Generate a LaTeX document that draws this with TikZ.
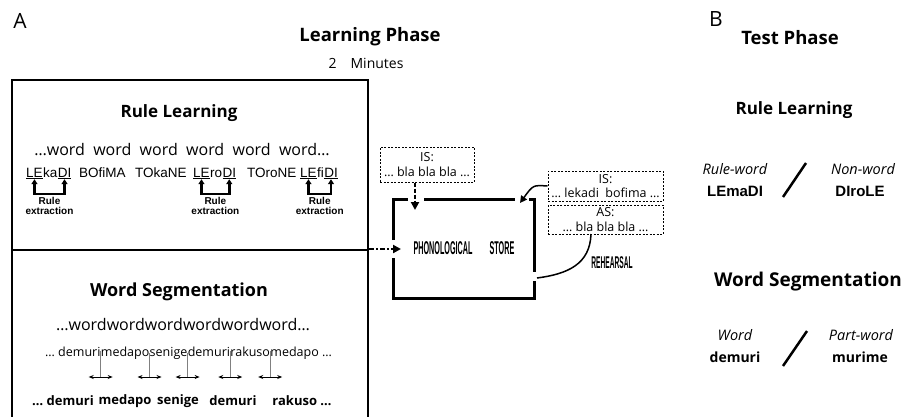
\documentclass[tikz,border=0pt]{standalone}
\usepackage{fontspec}
\setmainfont{Open Sans}
\newfontfamily\arialfont{Liberation Sans}
\usetikzlibrary{positioning,arrows.meta}
\newcommand\fsz[2]{\fontsize{#1pt}{#2pt}\selectfont}
\newcommand\narrow[1]{\scalebox{0.39}[1]{#1}}

\begin{document}
\begin{tikzpicture}[x=1pt,y=-1pt,
  phase/.style={font=\fsz{18.5}{20}\bfseries},
  sub/.style={font=\fsz{18}{20}\bfseries},
  wordline/.style={font=\fsz{16}{18}},
  syl/.style={font=\arialfont\fsz{13.5}{15},anchor=base west,inner sep=0pt},
  bracket/.style={line width=2.5pt,{Triangle[length=5pt,width=6pt]}-{Triangle[length=5pt,width=6pt]}},
  ruletxt/.style={font=\arialfont\bfseries\fsz{10}{10},align=center,inner sep=1.5pt},
  stream/.style={font=\fsz{12.5}{14},anchor=base west,inner sep=0pt},
  tick/.style={gray,line width=1pt},
  split/.style={line width=1pt,{Stealth[length=5pt,width=4pt]}-{Stealth[length=5pt,width=4pt]}},
  seg/.style={font=\fsz{13}{15}\bfseries},
  boxline/.style={line width=2.5pt},
  buffer/.style={draw,line width=1pt,dash pattern=on 2pt off 1.5pt,font=\fsz{12.5}{14.5},
    align=center,inner sep=0pt},
  store/.style={line width=3pt},
  storetxt/.style={font=\arialfont\bfseries\fsz{18.5}{18.5}},
  feed/.style={line width=2.5pt,dash pattern=on 4pt off 2pt,-{Triangle[length=8pt,width=8pt]}},
  kind/.style={font=\fsz{14.5}{16}\itshape},
  item/.style={font=\arialfont\bfseries\fsz{15}{17}},
  item2/.style={font=\fsz{14}{16}\bfseries},
  slash/.style={line width=2.5pt}]
\useasboundingbox (0,0) rectangle (907,416);

% panel A
\node[font=\fsz{21}{23}] (lblA) at (20,21) {A};
\node[phase] (learn) at (370,37) {Learning Phase};
\node[font=\fsz{14}{16}] (mins) at (366,63) {2\quad Minutes};
\draw[boxline] (12,80) rectangle (368,440);
\draw[boxline] (12,250) -- (368,250);

% rule learning
\node[sub,font=\fsz{17}{19}\bfseries] (rlTitle) at (179,113) {Rule Learning};
\node[wordline] (wl1) at (182,150) {\ldots word\ \ word\ \ word\ \ word\ \ word\ \ word\ldots};
\node[syl] (le1) at (26,177) {\underline{LE}};
\node[syl] (ka1) at (le1.base east) {ka};
\node[syl] (di1) at (ka1.base east) {\underline{DI}};
\node[syl] (bo) at (79,177) {BOfiMA};
\node[syl] (tk) at (135,177) {TOkaNE};
\node[syl] (le2) at (193,177) {\underline{LE}};
\node[syl] (ro2) at (le2.base east) {ro};
\node[syl] (di2) at (ro2.base east) {\underline{DI}};
\node[syl] (tr) at (247,177) {TOroNE};
\node[syl] (le3) at (300,177) {\underline{LE}};
\node[syl] (fi3) at (le3.base east) {fi};
\node[syl] (di3) at (fi3.base east) {\underline{DI}};
\foreach \a/\b in {le1/di1,le2/di2,le3/di3}
  \draw[bracket] (\a.south) -- ++(0,15) -| node[pos=0.25,below,ruletxt] {Rule\\extraction} (\b.south);

% word segmentation
\node[sub] (wsTitle) at (179,292) {Word Segmentation};
\node[wordline] (wl2) at (183,325) {\ldots wordwordwordwordwordword\ldots};
\node[stream] (w1) at (45,356) {\ldots{} demuri};
\node[stream] (w2) at (w1.base east) {medapo};
\node[stream] (w3) at (w2.base east) {senige};
\node[stream] (w4) at (w3.base east) {demuri};
\node[stream] (w5) at (w4.base east) {rakuso};
\node[stream] (w6) at (w5.base east) {medapo \ldots};
\foreach \w in {w1,w2,w3,w4,w5}{
  \coordinate (\w cut) at (\w.east |- 0,377);
  \draw[tick] (\w.east) -- (\w cut);
  \draw[split] ([xshift=-12pt]\w cut) -- ([xshift=12pt]\w cut);
}
\node[seg] (s1) at (63,401) {\ldots{} demuri};
\node[seg] (s2) at (125,401) {medapo};
\node[seg] (s3) at (178,401) {senige};
\node[seg] (s4) at (233,401) {demuri};
\node[seg] (s5) at (302,401) {rakuso \ldots};

% phonological store
\draw[store] (393,240) -- (393,199) -- (408,199);
\draw[store] (424,199) -- (515,199);
\draw[store] (529,199) -- (534,199) -- (534,272);
\draw[store] (534,281) -- (534,298) -- (393,298) -- (393,258);
\node[storetxt] (phon) at (443,248) {\narrow{PHONOLOGICAL}};
\node[storetxt] (st) at (502,248) {\narrow{STORE}};
\node[buffer,minimum width=94pt,minimum height=35pt] (is1) at (427,164.5) {IS:\\\ldots{} bla bla bla \ldots};
\node[buffer,minimum width=115pt,minimum height=30pt] (is2) at (605.5,186) {IS:\\\ldots{} lekadi\ \ bofima \ldots};
\node[buffer,minimum width=115pt,minimum height=29pt] (as) at (605.5,219.5) {AS:\\\ldots{} bla bla bla \ldots};
\coordinate (storeIn) at (415,210);
\coordinate (boxR) at (369,249);
\coordinate (storeL) at (401,249);
\coordinate (storeTR) at (520,203);
\coordinate (rehStart) at (591,234);
\coordinate (rehEnd) at (537,278);
\draw[feed] (is1.south -| storeIn) -- (storeIn);
\draw[feed,dash pattern=on 5pt off 2pt on 2pt off 2pt] (boxR) -- (storeL);
\draw[line width=1.5pt,-{Triangle[length=7pt,width=7pt]}] (is2.west) .. controls (533,185) .. (storeTR);
\draw[line width=1.5pt] (rehStart) .. controls (590,264) and (568,274) .. (rehEnd);
\node[storetxt,font=\arialfont\bfseries\fsz{17}{17}] (reh) at (612,263) {\narrow{REHEARSAL}};

% panel B
\node[font=\fsz{21}{23}] (lblB) at (716,19) {B};
\node[phase] (test) at (790,38) {Test Phase};
\node[sub,font=\fsz{17}{19}\bfseries] (rl2) at (794,110) {Rule Learning};
\node[kind] (rw) at (735,169) {Rule-word};
\node[item] (rwEx) at (735,191) {LEmaDI};
\draw[slash] (783,197) -- (806,163);
\node[kind] (nw) at (863,169) {Non-word};
\node[item] (nwEx) at (860,191) {DIroLE};
\node[sub,font=\fsz{19}{21}\bfseries] (ws2) at (808,282) {Word Segmentation};
\node[kind] (wd) at (735,335) {Word};
\node[item2] (wdEx) at (735,357) {demuri};
\draw[slash] (783,366) -- (807,331);
\node[kind] (pw) at (861,335) {Part-word};
\node[item2] (pwEx) at (860,357) {murime};
\end{tikzpicture}
\end{document}
